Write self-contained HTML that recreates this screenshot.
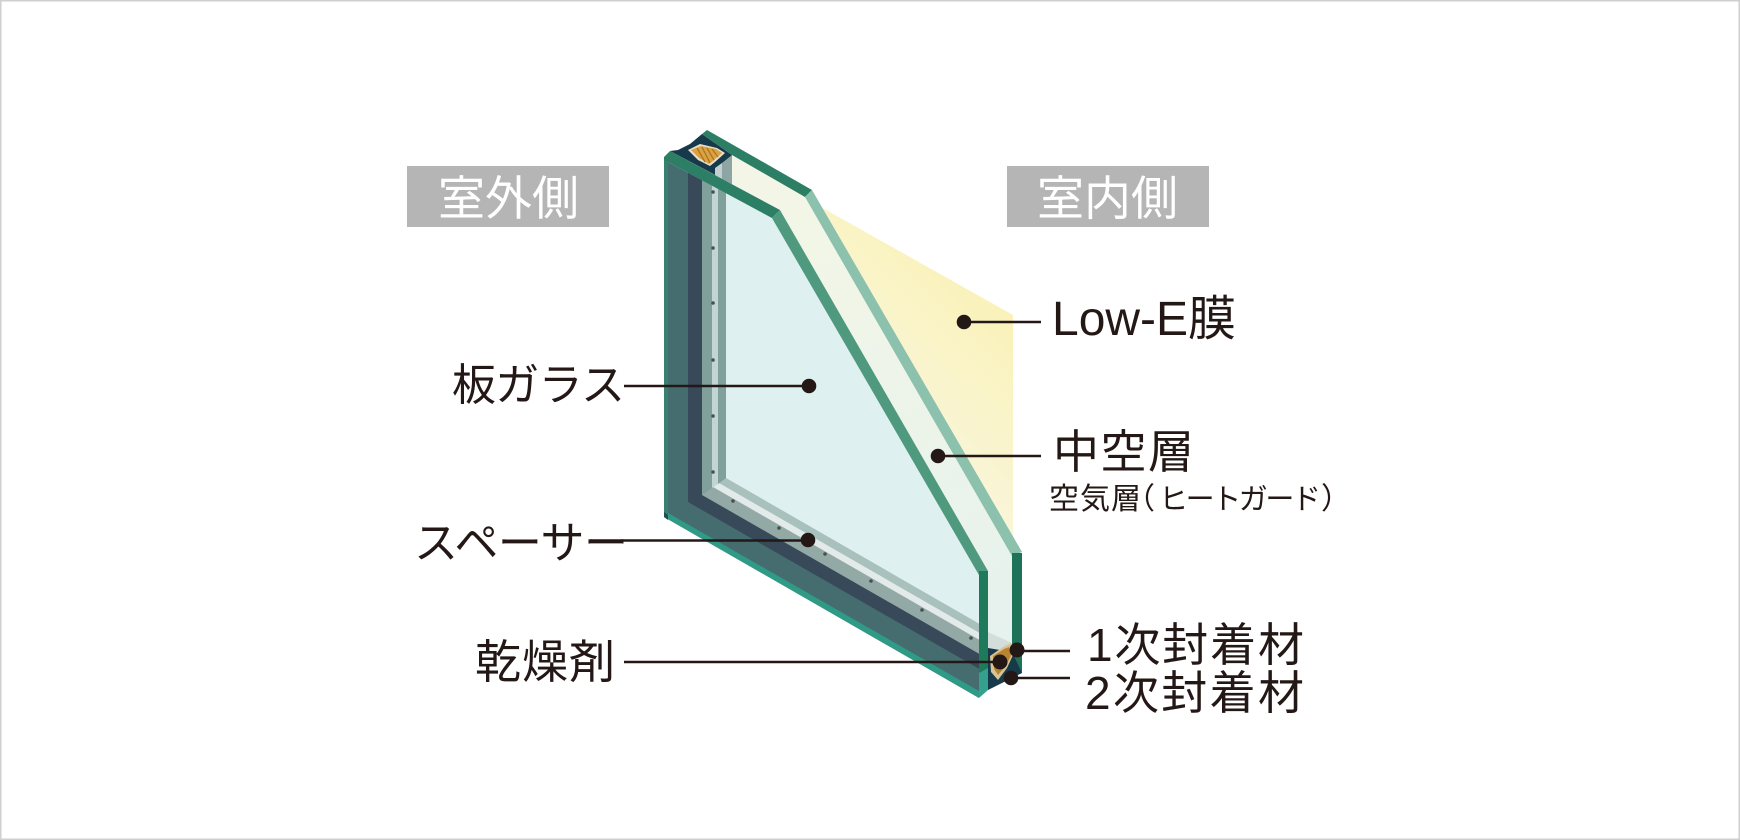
<!DOCTYPE html>
<html lang="ja"><head><meta charset="utf-8"><title>複層ガラス</title>
<style>html,body{margin:0;padding:0;background:#fff}svg{display:block}
text{font-family:"Liberation Sans","Noto Sans CJK JP",sans-serif;fill:#231815}</style></head>
<body>
<svg xmlns="http://www.w3.org/2000/svg" width="1740" height="840" viewBox="0 0 1740 840">
<defs>
<linearGradient id="y" gradientUnits="userSpaceOnUse" x1="850" y1="480" x2="1013" y2="320"><stop offset="0" stop-color="#f8f7e8"/><stop offset="1" stop-color="#faf2b9"/></linearGradient>
<linearGradient id="g" gradientUnits="userSpaceOnUse" x1="790" y1="200" x2="1010" y2="640"><stop offset="0" stop-color="#f3f6e6"/><stop offset="1" stop-color="#e6f2ee"/></linearGradient>
<clipPath id="h"><polygon points="664,160 668,162 772,218 979,575 979,698 664,517"/></clipPath>
</defs>
<rect width="1740" height="840" fill="#fff"/>
<rect x=".75" y=".75" width="1738.5" height="838.5" fill="none" stroke="#cfcfcf" stroke-width="1.5"/>

<rect x="407" y="166" width="202" height="61" fill="#b5b5b5"/>
<rect x="1007" y="166" width="202" height="61" fill="#b5b5b5"/>
<text x="438" y="215" font-size="47" style="fill:#fff" textLength="141">室外側</text>
<text x="1037" y="215" font-size="47" style="fill:#fff" textLength="141">室内側</text>

<!-- Low-E film -->
<polygon points="821,207 1013,315 1013,560 900,400" fill="url(#y)"/>
<!-- air gap -->
<polygon points="732,155 805,197 1012,556 1012,645 988,632 988,571 780,210 732,184" fill="url(#g)"/>
<!-- top sealant + spacer -->
<polygon points="670,151 678,150 690,144 702,134 732,155 732,184" fill="#173a4b"/>
<polygon points="715,168 722,163 722,179 715,175" fill="#c0cfd0"/>
<polygon points="722,163 732,155 732,184 722,179" fill="#8fa5a3"/>
<polygon points="688,150 700,144 717,148 725,153 715,162 710,166 698,160" fill="#e8decb"/>
<polygon points="691,150 701,146 716,149 722,153 713,161 709,164 699,158" fill="#dda23f"/>
<g stroke="#a8762a" stroke-width="1.3"><line x1="697" y1="148" x2="705" y2="162"/><line x1="702" y1="147" x2="710" y2="163"/><line x1="707" y1="148" x2="714" y2="160"/><line x1="712" y1="149" x2="718" y2="157"/></g>
<!-- back pane -->
<polygon points="702,134 707,130 812,190 805,197 732,155" fill="#2c7e65"/>
<polygon points="805,197 812,190 1022,552 1012,556" fill="#8cc1ae"/>
<rect x="1012" y="553" width="10" height="120" fill="#1d7258"/>

<!-- front pane interior -->
<g clip-path="url(#h)">
<rect x="660" y="150" width="330" height="560" fill="#456d70"/>
<polygon points="688,100 688,502 990,675 990,100" fill="#38495a"/>
<polygon points="702,100 702,495 990,660 990,100" fill="#93a9a5"/>
<polygon points="713,100 713,487 990,646 990,100" fill="#e3ebea"/>
<polygon points="719,100 719,483 990,639 990,100" fill="#a8c1bd"/>
<polygon points="726,100 726,478 990,630 990,100" fill="#dff0f0"/>
<polygon points="702,100 712,100 712,488 702,495" fill="#7fa09b"/>
<polygon points="712,100 718,100 718,484 712,488" fill="#c2d5d3"/>
<polygon points="718,100 726,100 726,478 718,484" fill="#80a09b"/>
<g fill="#46524f"><circle cx="713" cy="192" r="1.8"/><circle cx="713" cy="248" r="1.8"/><circle cx="713" cy="303" r="1.8"/><circle cx="713" cy="360" r="1.8"/><circle cx="713" cy="416" r="1.8"/><circle cx="713" cy="472" r="1.8"/><circle cx="733" cy="501" r="1.8"/><circle cx="779" cy="528" r="1.8"/><circle cx="825" cy="554" r="1.8"/><circle cx="871" cy="581" r="1.8"/><circle cx="922" cy="610" r="1.8"/><circle cx="971" cy="638" r="1.8"/></g>
<polygon points="664,517 979,698 979,691 668,513" fill="#2f9a85"/>
</g>
<rect x="664" y="157" width="4" height="358" fill="#38806f"/>
<polygon points="664,512 668,515 668,520 664,517" fill="#23504f"/>

<!-- front pane bands -->
<polygon points="664,157 670,151 780,210 772,218 668,162 664,160" fill="#2c7e65"/>
<polygon points="772,218 780,210 988,571 979,575" fill="#4f9a7e"/>
<rect x="979" y="571" width="9" height="102" fill="#1f7a5c"/>
<polygon points="979,673 988,668 988,690 979,698" fill="#35a08d"/>

<!-- bottom cross section -->
<polygon points="988,632 1012,643 1012,650 1000,655 988,648" fill="#d3dedc"/>
<polygon points="988,648 1012,652 1022,673 988,690" fill="#173a4b"/>
<polygon points="990,656 1003,647 1011,643 1013,655 1007,668 998,680 991,672" fill="#d9c496"/>
<polygon points="993,656 1004,649 1009,647 1011,656 1005,667 998,675 994,669" fill="#b9842f"/>

<!-- leaders -->
<g stroke="#231815" stroke-width="2.4" fill="none">
<line x1="964" y1="322" x2="1041" y2="322"/>
<line x1="938" y1="456" x2="1041" y2="456"/>
<line x1="624" y1="386" x2="809" y2="386"/>
<line x1="590" y1="540.5" x2="808" y2="540.5"/>
<line x1="624" y1="662" x2="1000" y2="662"/>
<line x1="1017" y1="651" x2="1070" y2="651"/>
<line x1="1011" y1="678" x2="1070" y2="678"/>
</g>
<g fill="#231815">
<circle cx="964" cy="322" r="7.3"/><circle cx="938" cy="456" r="7.3"/><circle cx="809" cy="386" r="7.3"/><circle cx="808" cy="540" r="7.3"/><circle cx="1000" cy="662" r="7.5"/><circle cx="1017" cy="650" r="7.5"/><circle cx="1011" cy="678" r="7.3"/>
</g>

<!-- labels -->
<text x="1052" y="335" font-size="48">Low-E<tspan>膜</tspan></text>
<text x="1053" y="468" font-size="46" textLength="141">中空層</text>
<text x="1049" y="509" font-size="30" textLength="92">空気層</text>
<text x="1125" y="509" font-size="30">（</text>
<text x="1159" y="509" font-size="29" textLength="162">ヒートガード</text>
<text x="1321" y="509" font-size="30">）</text>
<text x="452" y="400" font-size="44" textLength="173">板ガラス</text>
<text x="414" y="558" font-size="44" textLength="214">スペーサー</text>
<text x="475" y="678" font-size="46" textLength="140">乾燥剤</text>
<text x="1087" y="661" font-size="46" textLength="217">1次封着材</text>
<text x="1085" y="709" font-size="46" textLength="219">2次封着材</text>
</svg>
</body></html>
